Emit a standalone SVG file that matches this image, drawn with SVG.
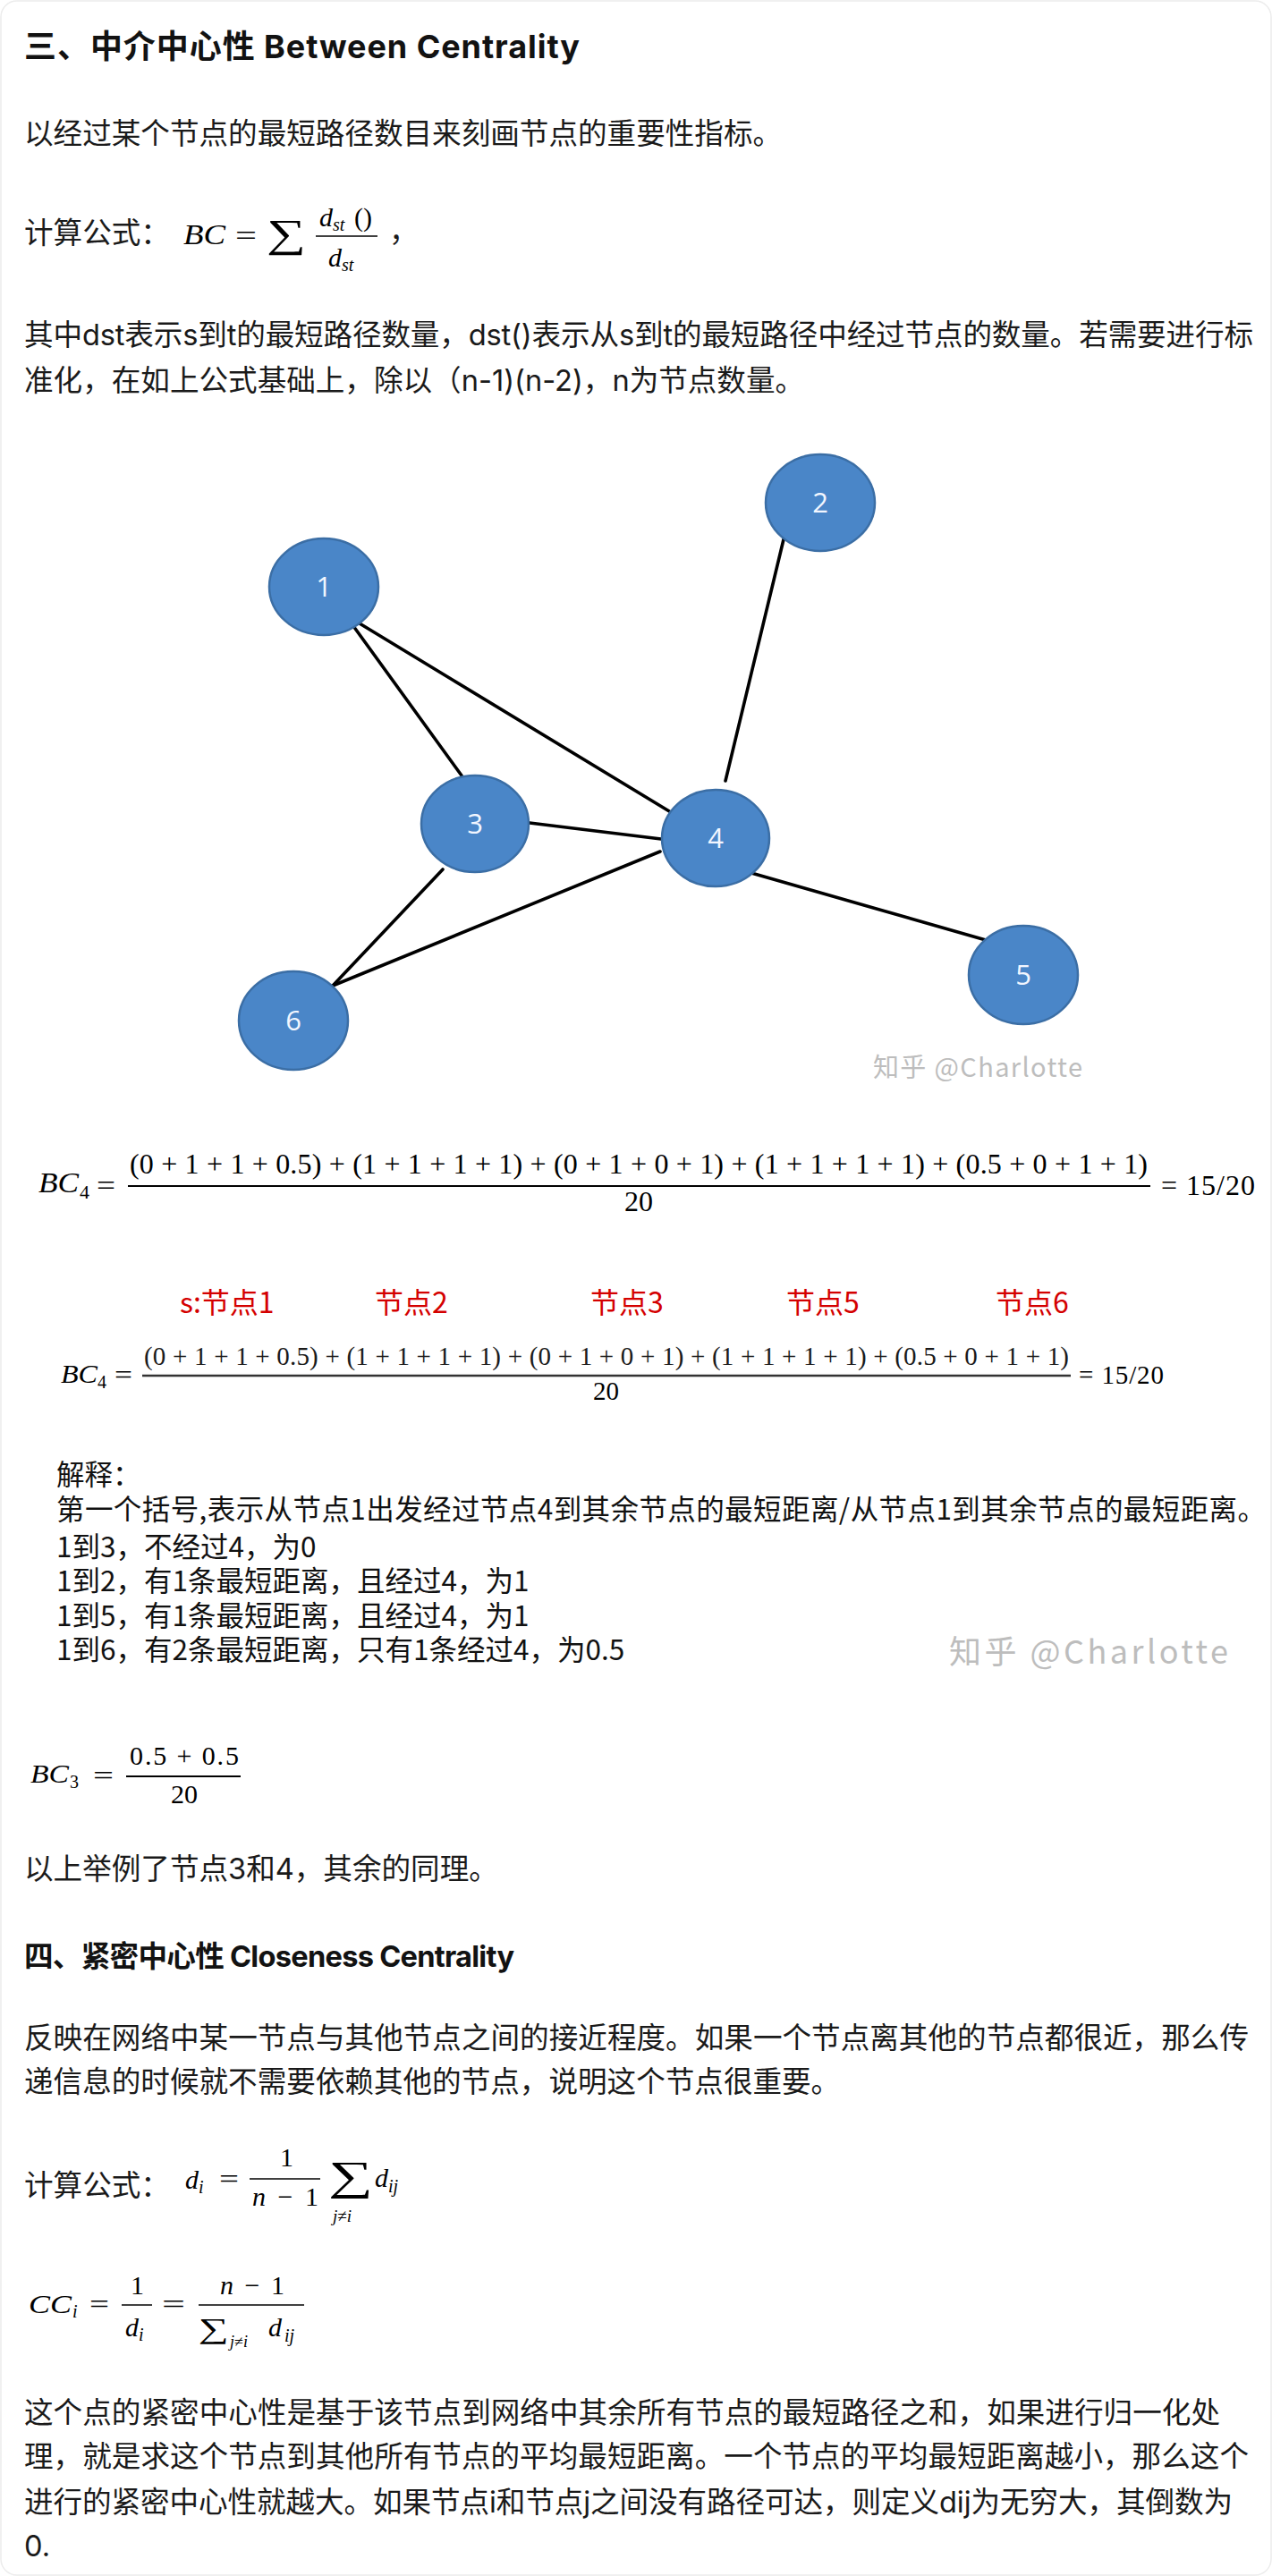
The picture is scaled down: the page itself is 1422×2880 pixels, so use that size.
<svg xmlns="http://www.w3.org/2000/svg" width="1422" height="2880" viewBox="0 0 1422 2880">
<style>
.body{font-family:Inter,"Noto Sans CJK SC",sans-serif;font-size:32.6px;fill:#1a1a1a}
.h1{font-family:Inter,"Noto Sans CJK SC",sans-serif;font-size:36px;font-weight:bold;fill:#121212}
.h2{font-family:Inter,"Noto Sans CJK SC",sans-serif;font-size:32.6px;font-weight:bold;fill:#121212}
.m{font-family:"Liberation Serif","DejaVu Serif",serif;font-size:30px;fill:#000}
.i{font-style:italic}
.sub{font-size:20px}
.expl{font-family:"Noto Sans CJK SC",sans-serif;font-size:31.5px;fill:#111}
.red{font-family:"Noto Sans CJK SC",sans-serif;font-size:32px;fill:#d40000}
.wm{font-family:"Noto Sans CJK SC",sans-serif;fill:#bdbdbd}
.node ellipse{fill:#4a86c8;stroke:#3b6ea5;stroke-width:2.5}
.node text{font-family:"Open Sans","Liberation Sans",sans-serif;font-size:31px;fill:#f2f6ff;text-anchor:middle}
.edge{stroke:#000;stroke-width:3.6;stroke-linecap:round;fill:none}
.rule{stroke:#000;stroke-width:2}
</style>
<rect x="1" y="1" width="1420" height="2878" rx="18" fill="#fff" stroke="#ececec" stroke-width="1.5"/>

<text class="h1" x="27" y="65" textLength="621">三、中介中心性 Between Centrality</text>
<text class="body" x="27" y="161">以经过某个节点的最短路径数目来刻画节点的重要性指标。</text>

<g id="formula-bc">
<text class="body" x="27" y="272">计算公式：</text>
<text class="m i" x="205" y="273" style="font-size:32px" textLength="47" lengthAdjust="spacingAndGlyphs">BC</text>
<text class="m" x="263" y="274" style="font-size:32px" textLength="24" lengthAdjust="spacingAndGlyphs">=</text>
<text class="m" x="298" y="276" style="font-size:44px" textLength="44" lengthAdjust="spacingAndGlyphs">∑</text>
<text class="m i" x="357" y="253">d</text>
<text class="m i sub" x="372" y="258">st</text>
<text class="m" x="396" y="253">()</text>
<line class="rule" x1="353" y1="264" x2="422" y2="264" style="stroke-width:1.6"/>
<text class="m i" x="367" y="298">d</text>
<text class="m i sub" x="382" y="303">st</text>
<text class="body" x="435" y="270">，</text>
</g>

<text class="body" x="27" y="386" textLength="1374">其中dst表示s到t的最短路径数量，dst()表示从s到t的最短路径中经过节点的数量。若需要进行标</text>
<text class="body" x="27" y="437">准化，在如上公式基础上，除以（n-1)(n-2)，n为节点数量。</text>

<g id="connectors">
<line class="edge" x1="390" y1="693" x2="516" y2="867"/>
<line class="edge" x1="397" y1="694" x2="763" y2="916"/>
<line class="edge" x1="876" y1="603" x2="811" y2="873"/>
<line class="edge" x1="592" y1="920" x2="739" y2="938"/>
<line class="edge" x1="495" y1="972" x2="372" y2="1102"/>
<line class="edge" x1="738" y1="952" x2="372" y2="1102"/>
<line class="edge" x1="840" y1="976" x2="1102" y2="1051"/>
</g>
<g id="node1" class="node"><ellipse cx="362" cy="656" rx="61" ry="54"/><text x="362" y="667">1</text></g>
<g id="node2" class="node"><ellipse cx="917" cy="562" rx="61" ry="54"/><text x="917" y="573">2</text></g>
<g id="node3" class="node"><ellipse cx="531" cy="921" rx="60" ry="54"/><text x="531" y="932">3</text></g>
<g id="node4" class="node"><ellipse cx="800" cy="937" rx="60" ry="54"/><text x="800" y="948">4</text></g>
<g id="node5" class="node"><ellipse cx="1144" cy="1090" rx="61" ry="55"/><text x="1144" y="1101">5</text></g>
<g id="node6" class="node"><ellipse cx="328" cy="1141" rx="61" ry="55"/><text x="328" y="1152">6</text></g>
<text class="wm" x="976" y="1204" font-size="29" textLength="234">知乎 @Charlotte</text>

<g id="formula-bc4-a">
<text class="m i" x="43" y="1333" style="font-size:32px" textLength="45" lengthAdjust="spacingAndGlyphs">BC</text>
<text class="m" x="89" y="1340" style="font-size:22px">4</text>
<text class="m" x="108" y="1336" style="font-size:32px" textLength="21" lengthAdjust="spacingAndGlyphs">=</text>
<text class="m" x="145" y="1312" style="font-size:32px" textLength="1138">(0 + 1 + 1 + 0.5) + (1 + 1 + 1 + 1) + (0 + 1 + 0 + 1) + (1 + 1 + 1 + 1) + (0.5 + 0 + 1 + 1)</text>
<line class="rule" x1="143" y1="1326" x2="1286" y2="1326"/>
<text class="m" x="698" y="1354" style="font-size:32px">20</text>
<text class="m" x="1298" y="1336" style="font-size:32px" textLength="105">= 15/20</text>
</g>

<g id="labels-red">
<text class="red" x="201" y="1468">s:节点1</text>
<text class="red" x="419" y="1468">节点2</text>
<text class="red" x="660" y="1468">节点3</text>
<text class="red" x="879" y="1468">节点5</text>
<text class="red" x="1113" y="1468">节点6</text>
</g>

<g id="formula-bc4-b">
<text class="m i" x="68" y="1546" style="font-size:29px" textLength="41" lengthAdjust="spacingAndGlyphs">BC</text>
<text class="m" x="109" y="1552" style="font-size:20px">4</text>
<text class="m" x="128" y="1547" style="font-size:29px" textLength="20" lengthAdjust="spacingAndGlyphs">=</text>
<text class="m" x="161" y="1526" style="font-size:29px;fill:#1a1a1a" textLength="1034">(0 + 1 + 1 + 0.5) + (1 + 1 + 1 + 1) + (0 + 1 + 0 + 1) + (1 + 1 + 1 + 1) + (0.5 + 0 + 1 + 1)</text>
<line class="rule" x1="159" y1="1538" x2="1197" y2="1538" style="stroke:#333;stroke-width:2.6"/>
<text class="m" x="663" y="1565" style="font-size:29px">20</text>
<text class="m" x="1206" y="1547" style="font-size:29px" textLength="95">= 15/20</text>
</g>

<g id="explanation">
<text class="expl" x="63" y="1660">解释：</text>
<text class="expl" x="63" y="1699" textLength="1352">第一个括号,表示从节点1出发经过节点4到其余节点的最短距离/从节点1到其余节点的最短距离。</text>
<text class="expl" x="63" y="1741">1到3，不经过4，为0</text>
<text class="expl" x="63" y="1779">1到2，有1条最短距离，且经过4，为1</text>
<text class="expl" x="63" y="1818">1到5，有1条最短距离，且经过4，为1</text>
<text class="expl" x="63" y="1856">1到6，有2条最短距离，只有1条经过4，为0.5</text>
<text class="wm" x="1061" y="1860" font-size="36" textLength="312">知乎 @Charlotte</text>
</g>

<g id="formula-bc3">
<text class="m i" x="34" y="1993" style="font-size:30px" textLength="43" lengthAdjust="spacingAndGlyphs">BC</text>
<text class="m" x="78" y="1999" style="font-size:20px">3</text>
<text class="m" x="104" y="1995" style="font-size:30px" textLength="23" lengthAdjust="spacingAndGlyphs">=</text>
<text class="m" x="145" y="1973" style="font-size:30px" textLength="122">0.5 + 0.5</text>
<line class="rule" x1="141" y1="1986" x2="269" y2="1986"/>
<text class="m" x="191" y="2016" style="font-size:30px">20</text>
</g>

<text class="body" x="27" y="2101">以上举例了节点3和4，其余的同理。</text>
<text class="h2" x="27" y="2199" textLength="548">四、紧密中心性 Closeness Centrality</text>
<text class="body" x="27" y="2290" textLength="1369">反映在网络中某一节点与其他节点之间的接近程度。如果一个节点离其他的节点都很近，那么传</text>
<text class="body" x="27" y="2339">递信息的时候就不需要依赖其他的节点，说明这个节点很重要。</text>

<g id="formula-di">
<text class="body" x="27" y="2455">计算公式：</text>
<text class="m i" x="207" y="2447">d</text>
<text class="m i sub" x="222" y="2452">i</text>
<text class="m" x="245" y="2446" textLength="22" lengthAdjust="spacingAndGlyphs">=</text>
<text class="m" x="313" y="2422">1</text>
<line class="rule" x1="279" y1="2436" x2="358" y2="2436" style="stroke-width:1.6"/>
<text class="m" x="282" y="2466" textLength="74"><tspan class="i">n</tspan> − 1</text>
<text class="m" x="367" y="2448" style="font-size:46px" textLength="50" lengthAdjust="spacingAndGlyphs">∑</text>
<text class="m" x="372" y="2484" style="font-size:19px"><tspan class="i">j</tspan>≠<tspan class="i">i</tspan></text>
<text class="m i" x="419" y="2445">d</text>
<text class="m i sub" x="434" y="2451">ij</text>
</g>

<g id="formula-cc">
<text class="m i" x="32" y="2586" textLength="48" lengthAdjust="spacingAndGlyphs">CC</text>
<text class="m i sub" x="81" y="2591">i</text>
<text class="m" x="100" y="2586" textLength="22" lengthAdjust="spacingAndGlyphs">=</text>
<text class="m" x="146" y="2565">1</text>
<line class="rule" x1="136" y1="2577" x2="170" y2="2577" style="stroke-width:1.6"/>
<text class="m i" x="140" y="2612">d</text>
<text class="m i sub" x="155" y="2617">i</text>
<text class="m" x="181" y="2586" textLength="26" lengthAdjust="spacingAndGlyphs">=</text>
<text class="m" x="246" y="2565" textLength="72"><tspan class="i">n</tspan> − 1</text>
<line class="rule" x1="222" y1="2577" x2="340" y2="2577" style="stroke-width:1.6"/>
<text class="m" x="222" y="2614" style="font-size:32px" textLength="34" lengthAdjust="spacingAndGlyphs">∑</text>
<text class="m" x="257" y="2624" style="font-size:18px"><tspan class="i">j</tspan>≠<tspan class="i">i</tspan></text>
<text class="m i" x="300" y="2612">d</text>
<text class="m i sub" x="318" y="2618">ij</text>
</g>

<text class="body" x="27" y="2709" textLength="1337">这个点的紧密中心性是基于该节点到网络中其余所有节点的最短路径之和，如果进行归一化处</text>
<text class="body" x="27" y="2758" textLength="1369">理，就是求这个节点到其他所有节点的平均最短距离。一个节点的平均最短距离越小，那么这个</text>
<text class="body" x="27" y="2809" textLength="1351">进行的紧密中心性就越大。如果节点i和节点j之间没有路径可达，则定义dij为无穷大，其倒数为</text>
<text class="body" x="27" y="2858">0.</text>
</svg>
